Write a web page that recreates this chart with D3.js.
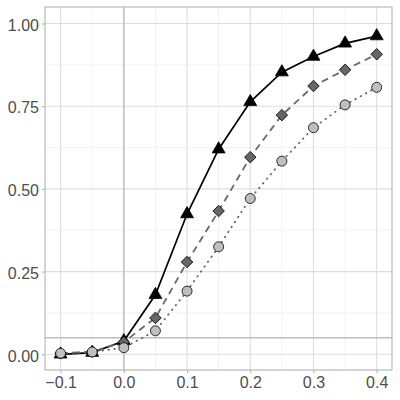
<!DOCTYPE html>
<html><head><meta charset="utf-8">
<script src="https://cdn.jsdelivr.net/npm/d3@7"></script>
<style>body{margin:0;background:#fff}svg{display:block}</style>
</head><body>
<svg id="c" width="400" height="400"></svg>
<script>
const xValues = [-0.1, -0.05, 0, 0.05, 0.1, 0.15, 0.2, 0.25, 0.3, 0.35, 0.4];
const triangleSeries = [0.0, 0.005, 0.04, 0.18, 0.424, 0.62, 0.763, 0.853, 0.90, 0.94, 0.962];
const diamondSeries = [0.003, 0.008, 0.037, 0.11, 0.279, 0.433, 0.596, 0.723, 0.811, 0.86, 0.907];
const circleSeries = [0.003, 0.007, 0.02, 0.071, 0.191, 0.325, 0.471, 0.584, 0.685, 0.754, 0.807];
const xTicks = [-0.1, 0.0, 0.1, 0.2, 0.3, 0.4];
const yTicks = [0, 0.25, 0.5, 0.75, 1.0];
const xMinor = [-0.05, 0.05, 0.15, 0.25, 0.35];
const yMinor = [0.125, 0.375, 0.625, 0.875];
const refY = 0.05, refX = 0;

const svg = d3.select("#c");
const L = 45, R = 392, T = 7, B = 370;
const x = d3.scaleLinear().domain([-0.1, 0.4]).range([60.6, 376.7]);
const y = d3.scaleLinear().domain([0, 1]).range([354.3, 23.5]);

svg.append("rect").attr("x", L).attr("y", T).attr("width", R - L).attr("height", B - T).attr("fill", "#fff");
const g = svg.append("g");
g.selectAll(".xm").data(xMinor).join("line").attr("x1", d => x(d)).attr("x2", d => x(d)).attr("y1", T).attr("y2", B).attr("stroke", "#ececec").attr("stroke-width", 0.7);
g.selectAll(".ym").data(yMinor).join("line").attr("y1", d => y(d)).attr("y2", d => y(d)).attr("x1", L).attr("x2", R).attr("stroke", "#ececec").attr("stroke-width", 0.7);
g.selectAll(".xM").data(xTicks).join("line").attr("x1", d => x(d)).attr("x2", d => x(d)).attr("y1", T).attr("y2", B).attr("stroke", "#dedede").attr("stroke-width", 1.1);
g.selectAll(".yM").data(yTicks).join("line").attr("y1", d => y(d)).attr("y2", d => y(d)).attr("x1", L).attr("x2", R).attr("stroke", "#dedede").attr("stroke-width", 1.1);

// reference lines
g.append("line").attr("x1", x(refX)).attr("x2", x(refX)).attr("y1", T).attr("y2", B).attr("stroke", "#bebebe").attr("stroke-width", 1.4);
g.append("line").attr("y1", y(refY)).attr("y2", y(refY)).attr("x1", L).attr("x2", R).attr("stroke", "#bebebe").attr("stroke-width", 1.4);

// axes
const xAxis = d3.axisBottom(x).tickValues(xTicks).tickFormat(d3.format(".1f")).tickSize(3).tickPadding(4);
const yAxis = d3.axisLeft(y).tickValues(yTicks).tickFormat(d3.format(".2f")).tickSize(3).tickPadding(3);
const ax = svg.append("g").attr("transform", `translate(0,${B})`).call(xAxis);
const ay = svg.append("g").attr("transform", `translate(${L},0)`).call(yAxis);
[ax, ay].forEach(a => {
  a.select(".domain").remove();
  a.selectAll(".tick line").attr("stroke", "#b3b3b3").attr("stroke-width", 1.1);
  a.selectAll(".tick text").attr("fill", "#4d4d4d").style("font-family", "'Liberation Sans', Arial, sans-serif").style("font-size", "16px");
});
ax.selectAll(".tick text").attr("dy", "0.71em");
ay.selectAll(".tick text").attr("dy", "0.42em");

// panel border
svg.append("rect").attr("x", L).attr("y", T).attr("width", R - L).attr("height", B - T).attr("fill", "none").attr("stroke", "#b3b3b3").attr("stroke-width", 1.1);

const line = d3.line().x((d, i) => x(xValues[i])).y(d => y(d));
svg.append("path").datum(triangleSeries).attr("d", line).attr("fill", "none").attr("stroke", "#000").attr("stroke-width", 1.7);
svg.append("path").datum(diamondSeries).attr("d", line).attr("fill", "none").attr("stroke", "#6a6a6a").attr("stroke-width", 1.8).attr("stroke-dasharray", "7,5");
svg.append("path").datum(circleSeries).attr("d", line).attr("fill", "none").attr("stroke", "#6a6a6a").attr("stroke-width", 1.9).attr("stroke-dasharray", "0.5,5.5").attr("stroke-linecap", "round");

const tri = d3.symbol().type(d3.symbolTriangle).size(72);
svg.selectAll(".tri").data(triangleSeries).join("path").attr("transform", (d, i) => `translate(${x(xValues[i])},${y(d)})`).attr("d", tri).attr("fill", "#000").attr("stroke", "#000").attr("stroke-width", 0.8);
svg.selectAll(".dia").data(diamondSeries).join("path").attr("transform", (d, i) => `translate(${x(xValues[i])},${y(d)}) rotate(45)`).attr("d", d3.symbol().type(d3.symbolSquare).size(66)).attr("fill", "#666").attr("stroke", "#000").attr("stroke-width", 0.8);
svg.selectAll(".cir").data(circleSeries).join("circle").attr("cx", (d, i) => x(xValues[i])).attr("cy", d => y(d)).attr("r", 5.0).attr("fill", "#bfbfbf").attr("stroke", "#000").attr("stroke-width", 0.8);
</script>
</body></html>
